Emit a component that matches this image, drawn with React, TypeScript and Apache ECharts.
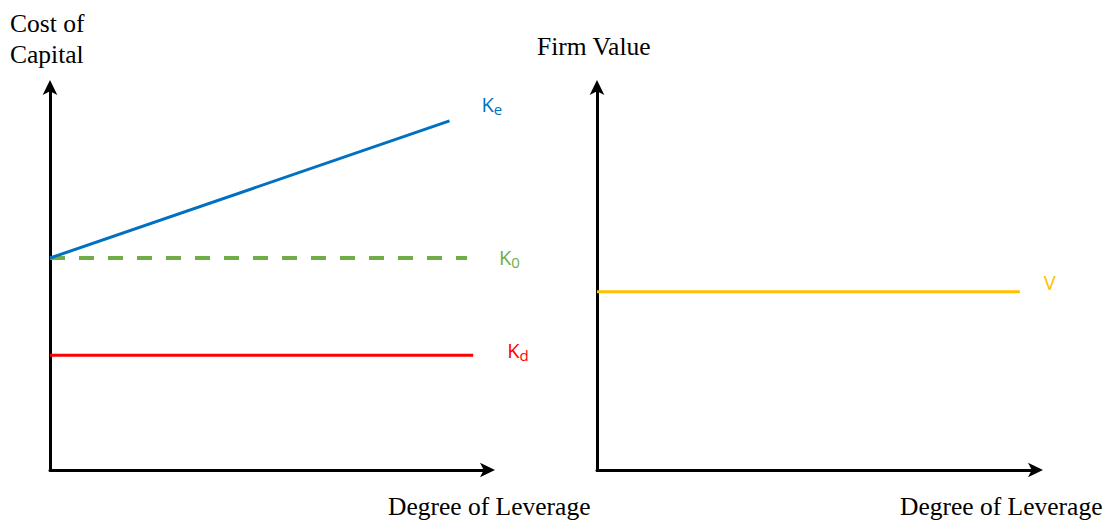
import React, { useEffect, useRef } from "react";
import * as echarts from "echarts";

// Leverage positions (0..100 scale) and cost/value levels
const keX = [0, 91];
const keY = [55.2, 90.9];
const k0X = [0, 95];
const k0Y = [55.2, 55.2];
const kdX = [0, 96.4];
const kdY = [29.9, 29.9];
const vX = [0, 96.1];
const vY = [46.4, 46.4];

const leftYTitle = "Cost of\nCapital";
const rightYTitle = "Firm Value";
const xTitle = "Degree of Leverage";

const SERIF = "'Liberation Serif', 'Times New Roman', serif";
const SANS = "'Open Sans', 'Noto Sans', sans-serif";

function pts(xs: number[], ys: number[]) {
  return xs.map((x, i) => [x, ys[i]]);
}

export default function App() {
  const ref = useRef<HTMLDivElement>(null);
  useEffect(() => {
    if (!ref.current) return;
    const chart = echarts.init(ref.current, undefined, { renderer: "svg" });
    const axisLine = {
      show: true,
      lineStyle: { color: "#000", width: 3 },
      symbol: ["none", "arrow"],
      symbolSize: [11, 15],
      symbolOffset: [0, 6],
    };
    const xAxisBase = {
      type: "value",
      min: 0,
      max: 100,
      axisLine,
      axisTick: { show: false },
      axisLabel: { show: false },
      splitLine: { show: false },
    };
    const yAxisBase = { ...xAxisBase };
    const labelRich = {
      k: { fontSize: 20, fontFamily: SANS },
      s: { fontSize: 15, fontFamily: SANS, verticalAlign: "bottom", padding: [9, 0, 0, 0] },
    };
    const option: any = {
      animation: false,
      backgroundColor: "#fff",
      grid: [
        { left: 50, top: 86, width: 439, height: 384 },
        { left: 597, top: 86, width: 440, height: 384 },
      ],
      xAxis: [
        { ...xAxisBase, gridIndex: 0 },
        { ...xAxisBase, gridIndex: 1 },
      ],
      yAxis: [
        { ...yAxisBase, gridIndex: 0 },
        { ...yAxisBase, gridIndex: 1 },
      ],
      series: [
        {
          type: "line",
          xAxisIndex: 0,
          yAxisIndex: 0,
          data: pts(keX, keY),
          symbol: "none",
          lineStyle: { color: "#0070C0", width: 3 },
          endLabel: {
            show: true,
            formatter: "{k|K}{s|e}",
            color: "#0070C0",
            offset: [24, -16],
            rich: labelRich,
          },
          z: 3,
        },
        {
          type: "line",
          xAxisIndex: 0,
          yAxisIndex: 0,
          data: pts(k0X, k0Y),
          symbol: "none",
          lineStyle: { color: "#70AD47", width: 4, type: [15, 14] },
          endLabel: {
            show: true,
            formatter: "{k|K}{s|0}",
            color: "#70AD47",
            offset: [24, -1],
            rich: labelRich,
          },
          z: 2,
        },
        {
          type: "line",
          xAxisIndex: 0,
          yAxisIndex: 0,
          data: pts(kdX, kdY),
          symbol: "none",
          lineStyle: { color: "#FF0000", width: 3 },
          endLabel: {
            show: true,
            formatter: "{k|K}{s|d}",
            color: "#FF0000",
            offset: [26, -5],
            rich: labelRich,
          },
        },
        {
          type: "line",
          xAxisIndex: 1,
          yAxisIndex: 1,
          data: pts(vX, vY),
          symbol: "none",
          lineStyle: { color: "#FFC000", width: 3 },
          endLabel: {
            show: true,
            formatter: "{k|V}",
            color: "#FFC000",
            offset: [16, -9],
            rich: labelRich,
          },
        },
      ],
      graphic: [
        {
          type: "text",
          left: 10,
          top: 8,
          style: {
            text: leftYTitle,
            font: `25.5px ${SERIF}`,
            fill: "#000",
            lineHeight: 31,
          },
        },
        {
          type: "text",
          left: 537,
          top: 33,
          style: { text: rightYTitle, font: `25.5px ${SERIF}`, fill: "#000" },
        },
        {
          type: "text",
          left: 388,
          top: 493,
          style: { text: xTitle, font: `25.5px ${SERIF}`, fill: "#000" },
        },
        {
          type: "text",
          left: 900,
          top: 493,
          style: { text: xTitle, font: `25.5px ${SERIF}`, fill: "#000" },
        },
      ],
    };
    chart.setOption(option);
    return () => chart.dispose();
  }, []);
  return (
    <div
      ref={ref}
      style={{ position: "absolute", left: 0, top: 0, width: 1108, height: 520 }}
    />
  );
}
